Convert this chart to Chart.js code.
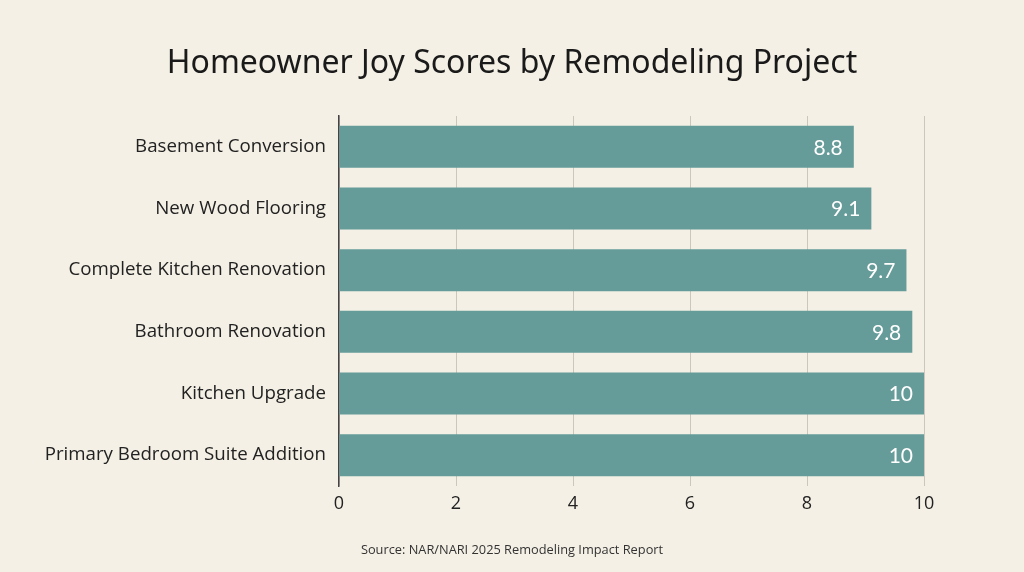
<!DOCTYPE html>
<html>
<head>
<meta charset="utf-8">
<script src="https://cdn.jsdelivr.net/npm/chart.js@4"></script>
<style>
  html, body { margin: 0; padding: 0; background: #f4f0e5; }
  #wrap { width: 1024px; height: 572px; }
</style>
</head>
<body>
<div id="wrap"><canvas id="joyChart" width="1024" height="572"></canvas></div>
<script>
// chart data
const projects = [
    "Basement Conversion",
    "New Wood Flooring",
    "Complete Kitchen Renovation",
    "Bathroom Renovation",
    "Kitchen Upgrade",
    "Primary Bedroom Suite Addition"
];
const joyScores = [8.8, 9.1, 9.7, 9.8, 10, 10];
const scoreTicks = [0, 2, 4, 6, 8, 10];
const chartTitle = "Homeowner Joy Scores by Remodeling Project";
const sourceNote = "Source: NAR/NARI 2025 Remodeling Impact Report";

// draws the value at the inner end of each bar
const barValues = {
    id: "barValues",
    afterDatasetsDraw(chart) {
        const c = chart.ctx;
        const meta = chart.getDatasetMeta(0);
        c.save();
        c.font = "21px Lato, sans-serif";
        c.fillStyle = "#ffffff";
        c.textAlign = "right";
        c.textBaseline = "middle";
        meta.data.forEach((bar, i) => {
            c.fillText(String(joyScores[i]), bar.x - 11, bar.y + 1);
        });
        c.restore();
    }
};

// title and source, centred on the whole canvas (not the plot area)
const pageText = {
    id: "pageText",
    afterDraw(chart) {
        const c = chart.ctx;
        const mid = chart.width / 2;
        c.save();
        c.textAlign = "center";
        c.textBaseline = "middle";
        c.fillStyle = "#1a1a1a";
        c.font = "32px 'Noto Sans', sans-serif";
        c.fillText(chartTitle, mid, 64);
        c.fillStyle = "#333333";
        c.font = "12.8px 'Open Sans', sans-serif";
        c.fillText(sourceNote, mid, 550);
        c.restore();
    }
};

const ctx = document.getElementById("joyChart").getContext("2d");
const joyChart = new Chart(ctx, {
    type: "bar",
    data: {
        labels: projects,
        datasets: [
            {
                data: joyScores,
                backgroundColor: "#659b99",
                borderWidth: 0,
                categoryPercentage: 1,
                barPercentage: 0.68
            }
        ]
    },
    options: {
        indexAxis: "y",
        responsive: false,
        animation: false,
        layout: { padding: { left: 0, right: 100, top: 116, bottom: 30 } },
        scales: {
            x: {
                min: 0,
                max: 10,
                afterBuildTicks(scale) {
                    scale.ticks = scoreTicks.map(v => ({ value: v }));
                },
                afterFit(scale) { scale.height = 56; },
                grid: { color: "#cbc7bd", lineWidth: 1, drawTicks: false },
                border: { display: false },
                ticks: {
                    padding: 7,
                    color: "#222222",
                    font: { family: "'Open Sans'", size: 18 }
                }
            },
            y: {
                afterFit(scale) { scale.width = 339; },
                grid: { display: false },
                border: { display: true, color: "#444444", width: 1.5 },
                ticks: {
                    padding: 5,
                    color: "#222222",
                    font: { family: "'Open Sans'", size: 18.7 }
                }
            }
        },
        plugins: {
            legend: { display: false },
            tooltip: { enabled: false },
            title: { display: false }
        }
    },
    plugins: [barValues, pageText]
});
</script>
</body>
</html>
